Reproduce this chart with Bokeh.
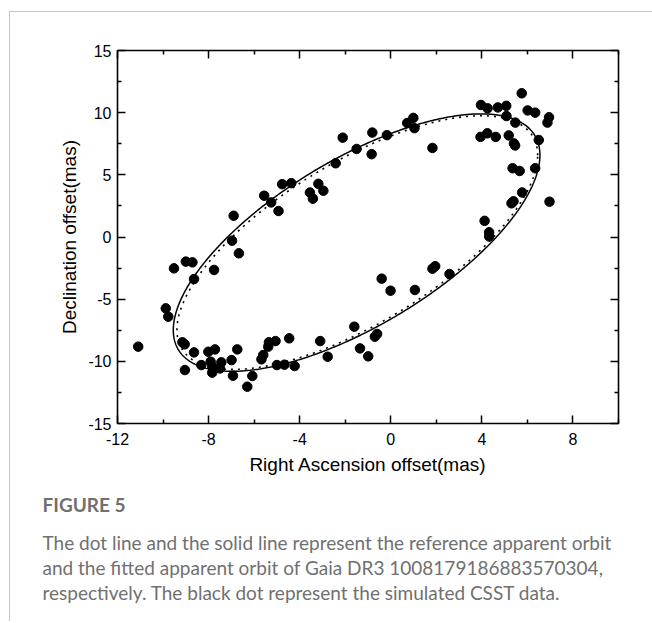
import numpy as np
from bokeh.plotting import figure
from bokeh.models import LinearAxis, FixedTicker, Title, Range1d
from bokeh.embed import file_html
from bokeh.resources import INLINE

# ---------------- data ----------------
ra = [-11.09, -9.88, -9.77, -9.52, -9.00, -8.71, -8.64, -7.76, -6.97, -6.67,
      -6.90, -9.15, -9.05, -8.64, -8.01, -7.72, -6.74, -9.04, -8.32, -7.91,
      -7.84, -7.84, -7.50, -7.44, -6.99, -6.93, -6.08, -6.30, -5.68, -5.60,
      -5.38, -5.35, -5.06, -4.46, -5.00, -4.67, -4.22, -3.10, -2.77, -1.60,
      -1.35, -0.99, -0.70, -0.60, -0.40, -0.01, 1.06, 1.83, 1.95, 2.58,
      -5.56, -5.25, -4.93, -4.77, -4.37, -3.55, -3.42, -3.18, -2.96, -2.42,
      -2.11, -1.50, -0.81, -0.84, -0.17, 0.72, 0.99, 1.04, 1.83, 3.96,
      4.25, 4.70, 5.07, 5.08, 5.75, 6.01, 6.34, 6.95, 6.88, 5.47,
      3.94, 4.24, 4.61, 5.18, 5.41, 5.46, 6.50, 5.35, 5.66, 6.34,
      5.77, 5.30, 5.39, 6.97, 4.12, 4.32, 4.32]
dec = [-8.82, -5.74, -6.41, -2.52, -1.98, -2.04, -3.38, -2.65, -0.30, -1.31,
       1.71, -8.47, -8.63, -9.28, -9.23, -9.04, -9.04, -10.70, -10.30, -10.03,
       -10.43, -10.91, -10.57, -10.08, -9.90, -11.16, -11.18, -12.04, -9.84, -9.49,
       -8.82, -8.47, -8.37, -8.15, -10.30, -10.27, -10.38, -8.37, -9.63, -7.21,
       -8.96, -9.60, -8.02, -7.80, -3.35, -4.32, -4.26, -2.55, -2.35, -2.98,
       3.32, 2.78, 2.09, 4.25, 4.33, 3.58, 3.08, 4.28, 3.72, 5.93,
       7.99, 7.08, 8.40, 6.66, 8.19, 9.17, 9.58, 8.75, 7.16, 10.62,
       10.35, 10.42, 10.55, 9.73, 11.56, 10.18, 10.00, 9.63, 9.20, 9.20,
       8.05, 8.34, 8.05, 8.17, 7.53, 7.36, 7.80, 5.53, 5.31, 5.53,
       3.58, 2.71, 2.87, 2.84, 1.30, 0.38, 0.05]

x_ticks = [-12, -8, -4, 0, 4, 8]
x_tick_labels = ["-12", "-8", "-4", "0", "4", "8"]
x_minor = [-10, -6, -2, 2, 6, 10]
y_ticks = [-15, -10, -5, 0, 5, 10, 15]
y_tick_labels = ["-15", "-10", "-5", "0", "5", "10", "15"]
y_minor = [-12.5, -7.5, -2.5, 2.5, 7.5, 12.5]

# apparent orbits: centre, semi-amplitudes along RA / Dec and phase lag
fit_orbit = {"x0": -1.50, "y0": -0.45, "ax": 8.05, "ay": 10.35, "lag_deg": 47.2}
ref_orbit = {"x0": -1.47, "y0": -0.45, "ax": 7.92, "ay": 10.20, "lag_deg": 46.5}

x_label = "Right Ascension offset(mas)"
y_label = "Declination offset(mas)"
fig_title = "FIGURE 5"
caption = ["The dot line and the solid line represent the reference apparent orbit",
           "and the fitted apparent orbit of Gaia DR3 1008179186883570304,",
           "respectively. The black dot represent the simulated CSST data."]


def orbit_curve(o, n=721):
    t = np.linspace(0.0, 2.0 * np.pi, n)
    lag = np.radians(o["lag_deg"])
    return o["x0"] + o["ax"] * np.cos(t), o["y0"] + o["ay"] * np.cos(t - lag)


# ---------------- figure ----------------
p = figure(frame_width=501, frame_height=373,
           min_border_left=107, min_border_right=48,
           min_border_top=38, min_border_bottom=0,
           x_range=Range1d(-12, 10), y_range=Range1d(-15, 15),
           output_backend="svg", toolbar_location=None,
           background_fill_color="white", border_fill_color="white")
p.styles = {"margin-left": "9px", "margin-top": "11px",
            "padding-bottom": "17px",
            "border-left": "1px solid #c6c6c6",
            "border-top": "1px solid #c6c6c6",
            "border-right": "1px solid #c6c6c6"}
p.grid.visible = False
p.outline_line_color = None

rx, ry = orbit_curve(ref_orbit)
fx, fy = orbit_curve(fit_orbit)
p.line(rx, ry, line_color="black", line_width=1.6, line_dash="2 5")
p.line(fx, fy, line_color="black", line_width=1.5)
p.scatter(ra, dec, size=9.5, marker="circle", fill_color="black", line_color="black")

p.add_layout(LinearAxis(), "above")
p.add_layout(LinearAxis(), "right")

xt = FixedTicker(ticks=x_ticks, minor_ticks=x_minor)
yt = FixedTicker(ticks=y_ticks, minor_ticks=y_minor)
for ax in p.xaxis:
    ax.ticker = xt
for ax in p.yaxis:
    ax.ticker = yt

for ax in p.axis:
    ax.axis_line_color = "black"
    ax.axis_line_width = 1.6
    ax.major_tick_in = 8
    ax.major_tick_out = 0
    ax.minor_tick_in = 4
    ax.minor_tick_out = 0
    ax.major_tick_line_color = "black"
    ax.minor_tick_line_color = "black"
    ax.major_tick_line_width = 1.5
    ax.minor_tick_line_width = 1.5
    ax.major_label_text_font = "Liberation Sans"
    ax.major_label_text_font_size = "16px"
    ax.major_label_text_color = "black"
    ax.axis_label_text_font = "Liberation Sans"
    ax.axis_label_text_font_size = "19px"
    ax.axis_label_text_font_style = "normal"
    ax.axis_label_text_color = "black"

p.below[0].major_label_overrides = dict(zip(x_ticks, x_tick_labels))
p.left[0].major_label_overrides = dict(zip(y_ticks, y_tick_labels))
p.above[0].major_label_overrides = {t: "" for t in x_ticks}
p.right[0].major_label_overrides = {t: "" for t in y_ticks}

p.below[0].axis_label = x_label
p.below[0].major_label_standoff = 9
p.below[0].axis_label_standoff = 6
p.left[0].axis_label = y_label
p.left[0].major_label_standoff = 6
p.left[0].axis_label_standoff = 5

# caption below the chart
p.add_layout(Title(text=fig_title, align="left", offset=-75, standoff=26,
                   text_font="Lato", text_font_style="bold",
                   text_font_size="19px", text_color="#707070"), "below")
p.add_layout(Title(text="\n".join(caption), align="left", offset=-75, standoff=0,
                   text_font="Lato", text_font_style="normal",
                   text_font_size="19px", text_line_height=1.1,
                   text_color="#707070"), "below")

open("out.html", "w").write(file_html(p, INLINE))
